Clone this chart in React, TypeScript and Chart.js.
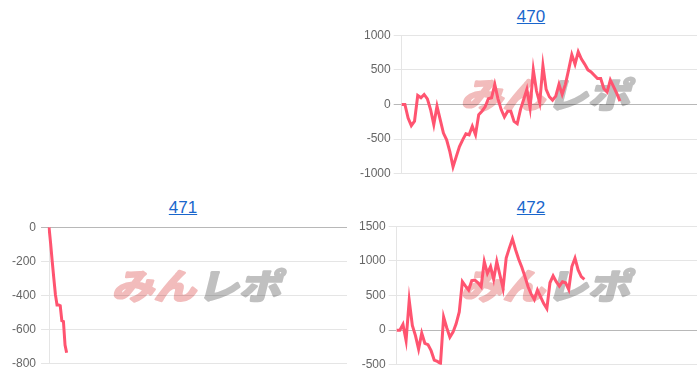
import React, { useEffect, useRef } from "react";
import { Chart, registerables } from "chart.js";

Chart.register(...registerables);

// ---- data ----
const titles = ["470", "471", "472"];

const values470 = [
  0, 0, -195, -305, -240, 130, 97, 145, 82, -73, -290, -24, -218, -412, -510, -680,
  -900, -752, -607, -510, -422, -437, -315, -437, -146, -97, -34, 82, 97, 291, 82, -73,
  -180, -97, -97, -243, -277, -73, 73, 218, -49, 500, 194, 24, 560, 218, 112, 63, 121,
  291, 146, 291, 500, 720, 582, 760, 655, 583, 500, 471, 422, 374, 374, 228, 180, 354,
  257, 160, 49,
];

const values471 = [0, -95, -200, -300, -395, -455, -455, -460, -548, -552, -690, -735];

const values472 = [
  0, 0, 83, -150, 432, 68, -78, -272, -44, -190, -209, -296, -432, -451, -480, 189, 34,
  -102, -29, 92, 262, 699, 636, 578, 714, 723, 684, 626, 990, 820, 917, 733, 990, 796,
  602, 1039, 1184, 1316, 1160, 1024, 908, 772, 626, 519, 442, 578, 481, 383, 311, 684,
  782, 699, 636, 699, 684, 587, 917, 1039, 869, 772, 733,
];

// hidden category axis: number of periods on each chart
const periods470 = 93;
const periods471 = 187;
const periods472 = 97;

// [min, max, step]
const yTicks470 = [-1000, 1000, 500];
const yTicks471 = [-800, 0, 200];
const yTicks472 = [-500, 1500, 500];

const makeLabels = (n: number) => Array.from({ length: n }, (_, i) => String(i + 1));

const LINE_COLOR = "rgb(255, 84, 112)";
const FONT = '"Liberation Sans", Arial, Helvetica, sans-serif';

const makeWatermark = (x: number, y: number) => ({
  id: "watermark",
  beforeDraw(chart: any) {
    const ctx = chart.ctx as CanvasRenderingContext2D;
    ctx.save();
    ctx.translate(x, y);
    ctx.transform(1, 0, -0.25, 1, 0, 0);
    ctx.scale(1.2, 1);
    ctx.font = 'bold 35px "Noto Sans CJK JP"';
    ctx.textBaseline = "middle";
    ctx.lineJoin = "round";
    ctx.lineWidth = 2.5;
    ctx.textAlign = "right";
    ctx.fillStyle = "rgb(242, 188, 188)";
    ctx.strokeStyle = "rgb(242, 188, 188)";
    ctx.fillText("みん", 0, 0);
    ctx.strokeText("みん", 0, 0);
    ctx.textAlign = "left";
    ctx.fillStyle = "rgb(192, 192, 192)";
    ctx.strokeStyle = "rgb(192, 192, 192)";
    ctx.fillText("レポ", 1, 0);
    ctx.strokeText("レポ", 1, 0);
    ctx.restore();
  },
});

type Props = {
  cellLeft: number;
  rowTop: number;
  canvasLeft: number;
  canvasTop: number;
  canvasHeight: number;
  tickPad: number;
  markX: number;
  values: number[];
  periods: number;
  yTicks: number[];
  title: string;
  titleShift: number;
};

const PLOT_RIGHT = 11; // gap between plot right edge and cell right edge

function Cell(p: Props) {
  const ref = useRef<HTMLCanvasElement>(null);
  const cLeft = p.cellLeft + p.canvasLeft;
  const cTop = p.rowTop + p.canvasTop;
  const cWidth = p.cellLeft + 350 - PLOT_RIGHT - cLeft;
  useEffect(() => {
    if (!ref.current) return;
    const chart = new Chart(ref.current, {
      type: "line",
      data: {
        labels: makeLabels(p.periods),
        datasets: [
          {
            data: p.values,
            borderColor: LINE_COLOR,
            backgroundColor: LINE_COLOR,
            borderWidth: 3,
            pointRadius: 0,
            pointHoverRadius: 0,
            fill: false,
            tension: 0,
          },
        ],
      },
      options: {
        responsive: false,
        animation: false,
        events: [],
        layout: { autoPadding: false, padding: 0 },
        plugins: {
          legend: { display: false },
          tooltip: { enabled: false },
          title: { display: false },
        },
        scales: {
          x: { display: false },
          y: {
            min: p.yTicks[0],
            max: p.yTicks[1],
            ticks: {
              stepSize: p.yTicks[2],
              padding: p.tickPad,
              color: "#666",
              font: { family: FONT, size: 12 },
              callback: (v: any) => String(v),
            },
            grid: {
              color: (c: any) =>
                c.tick && c.tick.value === 0 ? "rgba(0,0,0,0.28)" : "rgba(0,0,0,0.1)",
            },
          },
        },
      },
      plugins: [makeWatermark(p.cellLeft + p.markX - cLeft, p.rowTop + 95 - cTop)],
    });
    return () => chart.destroy();
  }, []);
  return (
    <>
      <div
        style={{
          position: "absolute",
          left: p.cellLeft + p.titleShift,
          top: p.rowTop + 7,
          width: 350,
          textAlign: "center",
          lineHeight: "20px",
          fontSize: 17,
          fontFamily: FONT,
        }}
      >
        <a href="#" style={{ color: "#1a66cc", textDecoration: "underline" }}>
          {p.title}
        </a>
      </div>
      <canvas
        ref={ref}
        width={cWidth}
        height={p.canvasHeight}
        style={{ position: "absolute", left: cLeft, top: cTop, width: cWidth, height: p.canvasHeight }}
      />
    </>
  );
}

export default function App() {
  return (
    <div style={{ position: "absolute", left: 0, top: 0, width: 700, height: 380, overflow: "hidden" }}>
      <Cell cellLeft={358} rowTop={0} canvasLeft={-1} canvasTop={25} canvasHeight={159} tickPad={3} markX={190}
        values={values470} periods={periods470} yTicks={yTicks470} title={titles[0]} titleShift={-2} />
      <Cell cellLeft={8} rowTop={191} canvasLeft={-1} canvasTop={24} canvasHeight={161} tickPad={5} markX={191}
        values={values471} periods={periods471} yTicks={yTicks471} title={titles[1]} titleShift={0} />
      <Cell cellLeft={358} rowTop={191} canvasLeft={-2} canvasTop={25} canvasHeight={159} tickPad={3} markX={190}
        values={values472} periods={periods472} yTicks={yTicks472} title={titles[2]} titleShift={-2} />
    </div>
  );
}
